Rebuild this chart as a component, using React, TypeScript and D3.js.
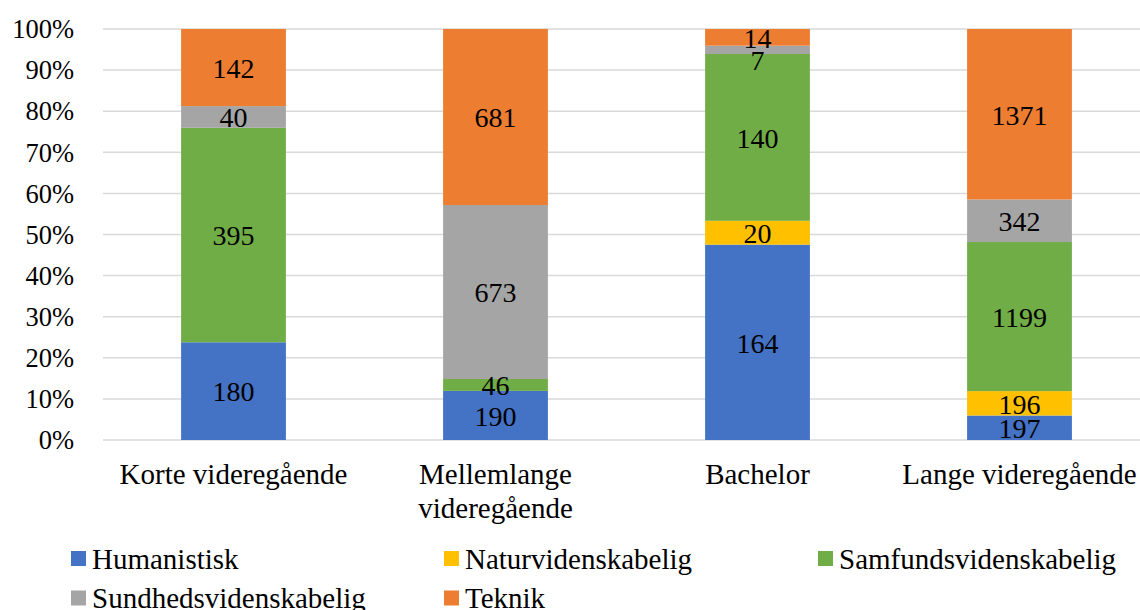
import React from "react";
import * as d3 from "d3";

const categories = ["Korte videregående", "Mellemlange videregående", "Bachelor", "Lange videregående"];
const seriesNames = ["Humanistisk", "Naturvidenskabelig", "Samfundsvidenskabelig", "Sundhedsvidenskabelig", "Teknik"];
const humanistisk = [180, 190, 164, 197];
const naturvidenskabelig = [0, 0, 20, 196];
const samfundsvidenskabelig = [395, 46, 140, 1199];
const sundhedsvidenskabelig = [40, 673, 7, 342];
const teknik = [142, 681, 14, 1371];
const colors = ["#4472C4", "#FFC000", "#70AD47", "#A5A5A5", "#ED7D31"];
const yTicks = [0, 0.1, 0.2, 0.3, 0.4, 0.5, 0.6, 0.7, 0.8, 0.9, 1];

const W = 1140;
const H = 610;
const FONT = "Liberation Serif";
const FS_Y = 26.5;
const FS_DATA = 28;
const FS_CAT = 29;
const FS_LEG = 29;

function measure(text: string, fs: number): number {
  const c = document.createElement("canvas").getContext("2d");
  if (!c) return text.length * fs * 0.45;
  c.font = `${fs}px Liberation Serif`;
  return c.measureText(text).width;
}

function wrap(text: string, maxW: number, fs: number): string[] {
  const words = text.split(" ");
  const lines: string[] = [];
  let cur = "";
  for (const w of words) {
    const t = cur ? cur + " " + w : w;
    if (cur && measure(t, fs) > maxW) {
      lines.push(cur);
      cur = w;
    } else cur = t;
  }
  if (cur) lines.push(cur);
  return lines;
}

export default function App() {
  const values = [humanistisk, naturvidenskabelig, samfundsvidenskabelig, sundhedsvidenskabelig, teknik];
  const rows = categories.map((c, i) => {
    const r: any = { cat: c };
    seriesNames.forEach((s, j) => (r[s] = values[j][i]));
    return r;
  });
  const stack = d3.stack<any>().keys(seriesNames).offset(d3.stackOffsetExpand);
  const layers = stack(rows);

  const x = d3.scaleBand<string>().domain(categories).range([102.5, 1150.5]).paddingInner(0.6).paddingOuter(0.3);
  const y = d3.scaleLinear().domain([0, 1]).range([440, 29]);
  const bw = x.bandwidth();

  const labels: { x: number; y: number; t: number }[] = [];
  categories.forEach((c, i) => {
    const items: { x: number; y: number; t: number }[] = [];
    layers.forEach((L, j) => {
      const v = values[j][i];
      if (!v) return;
      const d = L[i];
      items.push({ x: (x(c) as number) + bw / 2, y: (y(d[0]) + y(d[1])) / 2, t: v });
    });
    items.sort((a, b) => a.y - b.y);
    for (let k = 1; k < items.length; k++) {
      if (items[k].y < items[k - 1].y + 22) items[k].y = items[k - 1].y + 22;
    }
    labels.push(...items);
  });

  const legendPos = [
    { x: 71, y: 558.5 },
    { x: 444, y: 558.5 },
    { x: 818, y: 558.5 },
    { x: 71, y: 598 },
    { x: 444, y: 598 },
  ];

  return (
    <svg width={W} height={H} style={{ position: "absolute", left: 0, top: 0, background: "#fff" }}>
      {yTicks.map((t) => (
        <line key={t} x1={103} x2={W} y1={y(t)} y2={y(t)} stroke="#D9D9D9" strokeWidth={1.5} />
      ))}
      {yTicks.map((t) => (
        <text key={"l" + t} x={74} y={y(t)} dy="0.35em" textAnchor="end" style={{ fontFamily: FONT, fontSize: FS_Y }} fill="#000">
          {d3.format(".0%")(t)}
        </text>
      ))}
      {layers.map((L, j) => (
        <g key={L.key} fill={colors[j]}>
          {L.map((d, i) => (
            <rect key={i} x={x(categories[i])} width={bw} y={y(d[1])} height={Math.max(0, y(d[0]) - y(d[1]))} />
          ))}
        </g>
      ))}
      {labels.map((l, i) => (
        <text key={i} x={l.x} y={l.y} dy="0.37em" textAnchor="middle" style={{ fontFamily: FONT, fontSize: FS_DATA }} fill="#000">
          {l.t}
        </text>
      ))}
      {categories.map((c) => {
        const lines = wrap(c, x.step(), FS_CAT);
        const cx = (x(c) as number) + bw / 2;
        return (
          <text key={c} x={cx} y={484} textAnchor="middle" style={{ fontFamily: FONT, fontSize: FS_CAT }} fill="#000">
            {lines.map((ln, k) => (
              <tspan key={k} x={cx} dy={k === 0 ? 0 : 34}>
                {ln}
              </tspan>
            ))}
          </text>
        );
      })}
      {seriesNames.map((s, j) => (
        <g key={s}>
          <rect x={legendPos[j].x} y={legendPos[j].y - 7.5} width={15} height={15} fill={colors[j]} />
          <text x={legendPos[j].x + 21} y={legendPos[j].y} dy="0.35em" style={{ fontFamily: FONT, fontSize: FS_LEG }} fill="#000">
            {s}
          </text>
        </g>
      ))}
    </svg>
  );
}
